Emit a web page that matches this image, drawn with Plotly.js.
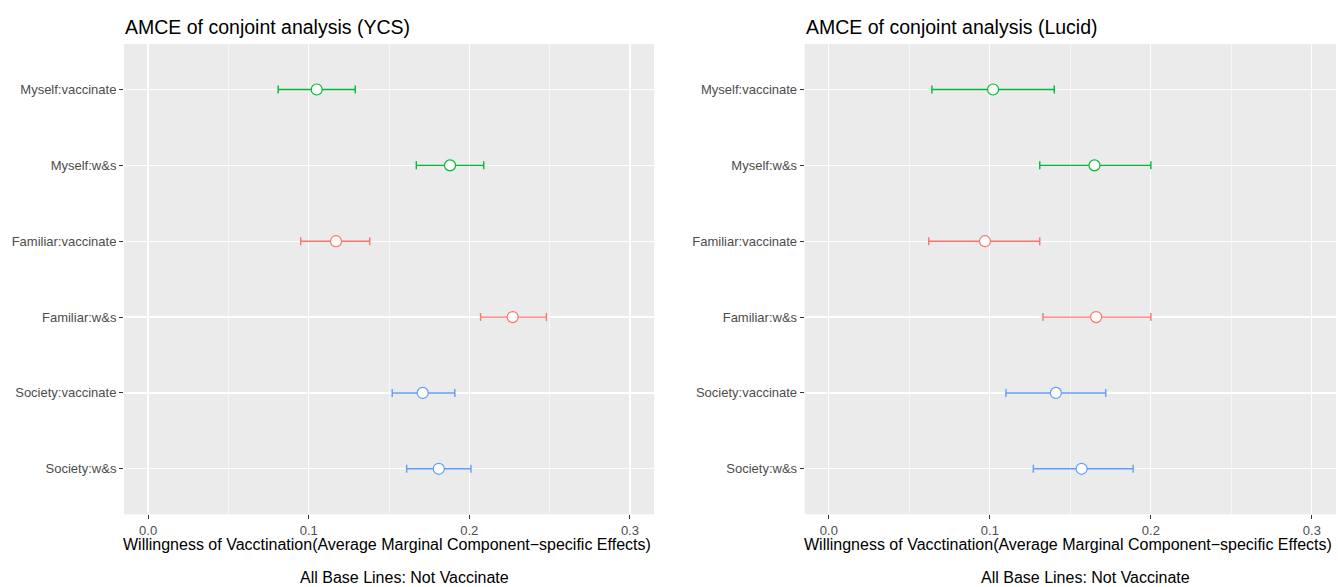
<!DOCTYPE html>
<html>
<head>
<meta charset="utf-8">
<script src="https://cdn.plot.ly/plotly-3.0.1.min.js"></script>
<style>html,body{margin:0;padding:0;background:#fff;}#chart{width:1338px;height:587px;}</style>
</head>
<body>
<div id="chart"></div>
<script>
// Categories (bottom to top on the y axis)
const categories = ['Society:w&s', 'Society:vaccinate', 'Familiar:w&s', 'Familiar:vaccinate', 'Myself:w&s', 'Myself:vaccinate'];

// Rows of the data (top to bottom as drawn)
const rowLabels = ['Myself:vaccinate', 'Myself:w&s', 'Familiar:vaccinate', 'Familiar:w&s', 'Society:vaccinate', 'Society:w&s'];
const rowGroups = ['Myself', 'Myself', 'Familiar', 'Familiar', 'Society', 'Society'];

// YCS panel
const ycsEst = [0.105, 0.188, 0.117, 0.227, 0.171, 0.181];
const ycsLow = [0.081, 0.167, 0.095, 0.207, 0.152, 0.161];
const ycsHigh = [0.129, 0.209, 0.138, 0.248, 0.191, 0.201];

// Lucid panel
const lucidEst = [0.102, 0.165, 0.097, 0.166, 0.141, 0.157];
const lucidLow = [0.064, 0.131, 0.062, 0.133, 0.110, 0.127];
const lucidHigh = [0.140, 0.200, 0.131, 0.200, 0.172, 0.189];

// x ticks
const xTickVals = [0, 0.1, 0.2, 0.3];
const xTickText = ['0.0', '0.1', '0.2', '0.3'];

const groupNames = ['Familiar', 'Myself', 'Society'];
const groupColors = {Familiar: '#F8766D', Myself: '#00BA38', Society: '#619CFF'};

const FONT = 'Liberation Sans, Arial, Helvetica, sans-serif';

function panelTraces(est, low, high, xa, ya) {
  const traces = [];
  groupNames.forEach(g => {
    const idx = rowGroups.map((gg, i) => gg === g ? i : -1).filter(i => i >= 0);
    traces.push({
      type: 'scatter',
      mode: 'markers',
      x: idx.map(i => est[i]),
      y: idx.map(i => rowLabels[i]),
      xaxis: xa, yaxis: ya,
      showlegend: false,
      hoverinfo: 'x+y',
      marker: {symbol: 'circle', size: 11, color: '#FFFFFF', line: {color: groupColors[g], width: 1.2}},
      error_x: {
        type: 'data', symmetric: false,
        array: idx.map(i => high[i] - est[i]),
        arrayminus: idx.map(i => est[i] - low[i]),
        color: groupColors[g], thickness: 1.4, width: 4
      }
    });
  });
  return traces;
}

const data = [].concat(
  panelTraces(ycsEst, ycsLow, ycsHigh, 'x', 'y'),
  panelTraces(lucidEst, lucidLow, lucidHigh, 'x2', 'y2')
);

const W = 1338, H = 587;
const px = v => v / W;
const py = v => (H - v) / H;

function xAxis(domain, anchor) {
  return {
    domain: domain, anchor: anchor,
    range: [-0.015, 0.315],
    tickmode: 'array', tickvals: xTickVals, ticktext: xTickText,
    ticks: 'outside', ticklen: 4, tickwidth: 1, tickcolor: '#333333',
    tickfont: {family: FONT, size: 13, color: '#4D4D4D'},
    showgrid: true, gridcolor: '#FFFFFF', gridwidth: 1.2,
    minor: {tickmode: 'array', tickvals: [0.05, 0.15, 0.25], showgrid: true, gridcolor: '#FFFFFF', gridwidth: 0.6, ticks: ''},
    zeroline: false, showline: false, fixedrange: true
  };
}
function yAxis(domain, anchor) {
  return {
    domain: domain, anchor: anchor,
    type: 'category', categoryorder: 'array', categoryarray: categories,
    range: [-0.6, 5.6],
    ticks: 'outside', ticklen: 4, tickwidth: 1, tickcolor: '#333333',
    tickfont: {family: FONT, size: 13, color: '#4D4D4D'},
    showgrid: true, gridcolor: '#FFFFFF', gridwidth: 1.2,
    zeroline: false, showline: false, fixedrange: true
  };
}

const yDom = [py(514.3), py(44)];
const layout = {
  width: W, height: H,
  margin: {l: 0, r: 0, t: 0, b: 0},
  paper_bgcolor: '#FFFFFF',
  plot_bgcolor: '#EBEBEB',
  showlegend: false,
  font: {family: FONT},
  xaxis: xAxis([px(124), px(654)], 'y'),
  yaxis: yAxis(yDom, 'x'),
  xaxis2: xAxis([px(804.7), px(1336)], 'y2'),
  yaxis2: yAxis(yDom, 'x2'),
  annotations: [
    {text: 'AMCE of conjoint analysis (YCS)', xref: 'paper', yref: 'paper', x: px(123), y: py(27), xanchor: 'left', yanchor: 'middle', showarrow: false, font: {family: FONT, size: 19.5, color: '#000000'}},
    {text: 'AMCE of conjoint analysis (Lucid)', xref: 'paper', yref: 'paper', x: px(803.7), y: py(27), xanchor: 'left', yanchor: 'middle', showarrow: false, font: {family: FONT, size: 19.5, color: '#000000'}},
    {text: 'Willingness of Vacctination(Average Marginal Component\u2212specific Effects)', xref: 'paper', yref: 'paper', x: px(387), y: py(544), xanchor: 'center', yanchor: 'middle', showarrow: false, font: {family: FONT, size: 16, color: '#000000'}},
    {text: 'Willingness of Vacctination(Average Marginal Component\u2212specific Effects)', xref: 'paper', yref: 'paper', x: px(1068), y: py(544), xanchor: 'center', yanchor: 'middle', showarrow: false, font: {family: FONT, size: 16, color: '#000000'}},
    {text: 'All Base Lines: Not Vaccinate', xref: 'paper', yref: 'paper', x: px(298), y: py(577), xanchor: 'left', yanchor: 'middle', showarrow: false, font: {family: FONT, size: 16, color: '#000000'}},
    {text: 'All Base Lines: Not Vaccinate', xref: 'paper', yref: 'paper', x: px(978.5), y: py(577), xanchor: 'left', yanchor: 'middle', showarrow: false, font: {family: FONT, size: 16, color: '#000000'}}
  ]
};

Plotly.newPlot('chart', data, layout, {staticPlot: true, displayModeBar: false});
</script>
</body>
</html>
